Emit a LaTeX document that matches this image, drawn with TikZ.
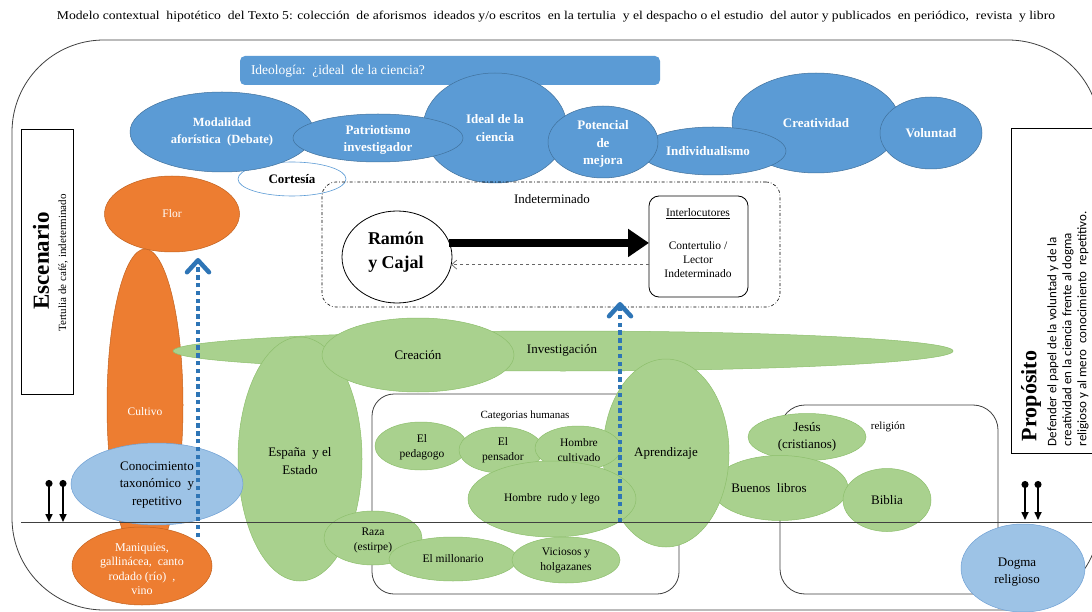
\documentclass[tikz,border=0pt]{standalone}
\usepackage{fontspec}
\usepackage{graphicx}
\setmainfont{Liberation Serif}
\newfontfamily\calibfont{Carlito}
\usetikzlibrary{shapes.geometric,arrows.meta,calc}

\definecolor{cblue}{HTML}{5B9BD5}
\definecolor{cblueline}{HTML}{41719C}
\definecolor{corange}{HTML}{ED7D31}
\definecolor{corangeline}{HTML}{C2621F}
\definecolor{cgreen}{HTML}{A9D18E}
\definecolor{cgreenline}{HTML}{8DBF6C}
\definecolor{clight}{HTML}{9DC3E6}
\definecolor{clightline}{HTML}{6FA0D4}
\definecolor{cdots}{HTML}{2E75B6}
\definecolor{cframe}{HTML}{404040}

\newcommand{\fz}[2]{\fontsize{#1}{#2}\selectfont}
% filled shape plus its centred caption (optional offset of the caption)
\newcommand{\shapeblob}[7][0,0]{%
  \node[#2, minimum width=#5pt, minimum height=#6pt] (#3) at (#4) {};
  \node[#2 text] at ($(#3.center)+(#1)$) {#7};}

\begin{document}
\begin{tikzpicture}[x=1pt,y=-1pt,
  every node/.style={inner sep=0pt, outer sep=0pt},
  framel/.style={draw=cframe, line width=0.8pt},
  ideobox/.style={rectangle, rounded corners=5pt, fill=cblue},
  bluebl/.style={ellipse, fill=cblue, draw=cblueline, line width=0.5pt},
  bluebl text/.style={text=white, font=\fz{13}{17.5}\bfseries, align=center},
  bluesm/.style={bluebl},
  bluesm text/.style={text=white, font=\fz{12.5}{17.5}\bfseries, align=center},
  cortes/.style={ellipse, fill=white, draw=cblue, line width=0.6pt},
  cortes text/.style={font=\fz{13}{16}\bfseries},
  orangebl/.style={ellipse, fill=corange, draw=corangeline, line width=0.5pt},
  orangebl text/.style={text=white, font=\fz{11.5}{14.5}, align=center},
  orangemulti/.style={orangebl},
  orangemulti text/.style={text=white, font=\fz{12}{14.5}, align=center},
  greenbl/.style={ellipse, fill=cgreen, draw=cgreenline, line width=0.5pt},
  greenbl text/.style={font=\fz{11.5}{15}, align=center},
  greenbig/.style={greenbl},
  greenbig text/.style={font=\fz{13}{17.5}, align=center},
  lightbl/.style={ellipse, fill=clight, draw=clightline, line width=0.5pt},
  lightbl text/.style={font=\fz{13}{17.5}, align=center},
  dashdotbox/.style={draw, line width=0.6pt, rounded corners=14pt,
    dash pattern=on 3pt off 2pt on 0.8pt off 2pt},
  plainbox/.style={draw, line width=0.9pt, fill=white},
  groupbox/.style={draw=cframe, line width=0.8pt},
  groundline/.style={draw=cframe, line width=0.9pt},
  dotline/.style={draw=cdots, line width=4.5pt, dash pattern=on 4.5pt off 3.3pt,
    -{Straight Barb[length=12pt,width=22pt,round]}},
  pinarrow/.style={line width=1.6pt, {Circle[length=7pt]}-{Triangle[length=8pt,width=7pt]}},
  bigarrow/.style={line width=7.5pt, -{Triangle[length=21pt,width=27pt]}},
  backarrow/.style={draw=gray!80!black, line width=0.7pt, dashed, -{Straight Barb[length=5pt,width=9pt]}}
]
\useasboundingbox (0,0) rectangle (1092,612);
\fill[white] (0,0) rectangle (1092,612);

% title line
\node (title) at (556,17) {\resizebox{998pt}{\height}{\fz{12}{14}Modelo contextual\ \ hipotético\ \ del Texto 5: colección\ \ de aforismos\ \ ideados y/o escritos\ \ en la tertulia\ \ y el despacho o el estudio\ \ del autor y publicados\ \ en periódico,\ \ revista\ \ y libro}};

% outer frame
\draw[framel, rounded corners=92pt] (12,40) rectangle (1100,610);

% ideology banner
\node[ideobox, minimum width=420pt, minimum height=29pt, anchor=north west] (ideo) at (240,56) {};
\node[anchor=west, text=white, font=\fz{13.5}{16}] (ideotxt) at (251,71) {Ideología:\ \ ¿ideal\ \ de la ciencia?};

% values in the upper band
\shapeblob{cortes}{cort}{292,179}{108}{34}{Cortesía}
\shapeblob{bluesm}{modal}{222,132}{184}{80}{Modalidad\\aforística\ \ (Debate)}
\shapeblob{bluebl}{ideal}{495,128}{144}{110}{Ideal de la\\ciencia}
\shapeblob[0,2]{bluebl}{patri}{378,138}{170}{48}{Patriotismo\\investigador}
\shapeblob{bluebl}{creat}{816,123}{168}{100}{Creatividad}
\shapeblob{bluebl}{volun}{931,133}{102}{72}{Voluntad}
\shapeblob[-5,0]{bluebl}{indiv}{713,151}{146}{48}{Individualismo}
\shapeblob[0,2]{bluebl}{poten}{603,142}{110}{72}{Potencial\\de\\mejora}

% communicative situation
\node[dashdotbox, minimum width=458pt, minimum height=125pt, anchor=north west] (indet) at (322,182) {};
\node[font=\fz{13}{15}] (indetlbl) at (552,199) {Indeterminado};
\node[ellipse, draw, line width=0.8pt, fill=white, minimum width=110pt, minimum height=92pt] (ramon) at (397,257) {};
\node[font=\fz{18}{24}\bfseries, align=center] (ramontxt) at (396,252) {Ramón\\y Cajal};
\node[draw, line width=0.8pt, fill=white, rounded corners=10pt, minimum width=99pt, minimum height=101pt, anchor=north west] (inter) at (649,196) {};
\node[font=\fz{11.5}{14}] (intertit) at (698,214) {\underline{Interlocutores}};
\node[font=\fz{11.5}{14}, align=center] (intertxt) at (698,260) {Contertulio /\\Lector\\Indeterminado};
\draw[bigarrow] (ramon.15) -- (ramon.15 -| inter.west);
\draw[backarrow] (ramon.-8 -| inter.west) -- (ramon.-8);

% side panels
\node[plainbox, minimum width=52pt, minimum height=265pt, anchor=north west] (escbox) at (21,129) {};
\node[rotate=90, font=\fz{23}{26}\bfseries] (esctit) at (41,261) {Escenario};
\node[rotate=90, font=\fz{11}{13}] (esctxt) at (63,263) {Tertulia de café, indeterminado};

\node[plainbox, minimum width=99pt, minimum height=325pt, anchor=north west] (propbox) at (1011,128) {};
\node[rotate=90, anchor=west, font=\fz{22}{26}\bfseries] (proptit) at (1031,441) {Propósito};
\node[rotate=90, anchor=west, font=\calibfont\fz{13}{15}] (propl1) at (1053,446) {Defender el papel de la voluntad y de la};
\node[rotate=90, anchor=west, font=\calibfont\fz{13}{15}] (propl2) at (1068,446) {creatividad en la ciencia frente al dogma};
\node[rotate=90, anchor=west, font=\calibfont\fz{13}{15}] (propl3) at (1083,446) {religioso y al mero\ \ conocimiento\ \ repetitivo.};

% growth column
\shapeblob{orangebl}{flor}{172,214}{135}{76}{Flor}
\shapeblob[0,7]{orangebl}{cultivo}{145,405}{76}{312}{Cultivo}
\shapeblob[0,3]{orangemulti}{mani}{142,566}{140}{78}{Maniquíes,\\gallinácea,\ \ canto\\rodado (río)\ \ ,\\vino}

% group frames
\node[groupbox, rounded corners=22pt, minimum width=307pt, minimum height=200pt, anchor=north west] (categ) at (372,394) {};
\node[font=\fz{11}{13}] (categlbl) at (525,416) {Categorias humanas};
\node[groupbox, rounded corners=25pt, minimum width=218pt, minimum height=189pt, anchor=north west] (relig) at (780,405) {};
\node[font=\fz{11}{13}] (religlbl) at (888,427) {religión};

% green notions
\shapeblob[-1,-1]{greenbig}{invest}{563,351}{780}{40}{Investigación}
\shapeblob[0,2]{greenbig}{espana}{300,459}{124}{244}{España\ \ y el\\Estado}
\shapeblob{greenbig}{creac}{418,355}{192}{74}{Creación}
\shapeblob{greenbig}{jesus}{807,437}{118}{47}{Jesús\\(cristianos)}
\shapeblob[-11,0]{greenbig}{buenos}{780,488}{136}{65}{Buenos\ \ libros}
\shapeblob{greenbig}{biblia}{887,500}{88}{63}{Biblia}
\shapeblob{greenbig}{aprend}{666,453}{126}{188}{Aprendizaje}
\shapeblob[1,1]{greenbl}{pedag}{421,446}{92}{48}{El\\pedagogo}
\shapeblob[2,0]{greenbl}{pensad}{501,450}{84}{46}{El\\pensador}
\shapeblob[1,2]{greenbl}{cultiv}{578,448}{86}{44}{Hombre\\cultivado}
\shapeblob{greenbl}{rudo}{552,499}{168}{76}{Hombre\ \ rudo y lego}
\shapeblob[0,2]{greenbl}{raza}{373,538}{98}{54}{Raza\\(estirpe)}
\shapeblob{greenbl}{millon}{453,559}{128}{44}{El millonario}
\shapeblob{greenbl}{vicios}{566,560}{108}{46}{Viciosos y\\holgazanes}

% knowledge and dogma
\shapeblob[0,1]{lightbl}{conoc}{157,484}{172}{82}{Conocimiento\\taxonómico\ \ y\\repetitivo}
\shapeblob[-6,4]{lightbl}{dogma}{1023,568}{124}{88}{Dogma\\religioso}

% ground line
\coordinate (groundL) at (21,522);
\coordinate (groundR) at (1092,522);
\draw[groundline] (groundL) -- (groundR);

% upward dotted arrows
\coordinate (dotAfoot) at (198,537);
\coordinate (dotAtip) at (198,258);
\draw[dotline] (dotAfoot) -- (dotAtip);
\coordinate (dotBfoot) at (620,522);
\coordinate (dotBtip) at (620,302);
\draw[dotline] (dotBfoot) -- (dotBtip);

% pressure pins on the ground line
\coordinate (pinA1) at (49,480); \coordinate (pinA1e) at (49,522);
\coordinate (pinA2) at (63,480); \coordinate (pinA2e) at (63,522);
\coordinate (pinB1) at (1025,481); \coordinate (pinB1e) at (1025,520);
\coordinate (pinB2) at (1038,481); \coordinate (pinB2e) at (1038,520);
\draw[pinarrow] (pinA1) -- (pinA1e);
\draw[pinarrow] (pinA2) -- (pinA2e);
\draw[pinarrow] (pinB1) -- (pinB1e);
\draw[pinarrow] (pinB2) -- (pinB2e);
\end{tikzpicture}
\end{document}
